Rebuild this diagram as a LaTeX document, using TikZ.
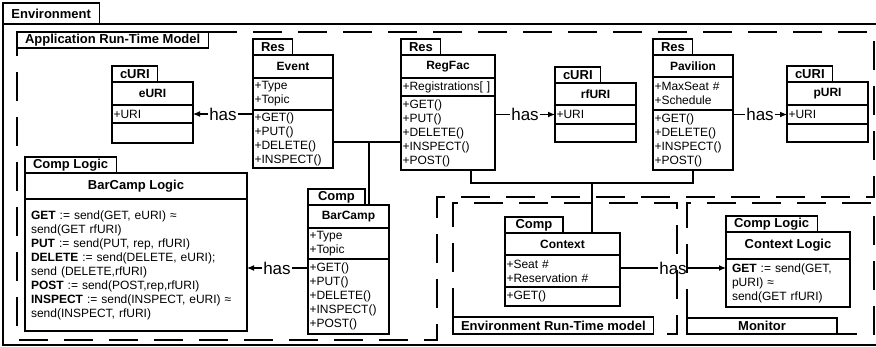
\documentclass[tikz,border=0pt]{standalone}
\usepackage{fontspec}
\setmainfont{Liberation Sans}
\usetikzlibrary{positioning,arrows.meta,calc}

\begin{document}
\begin{tikzpicture}[
    x=1pt, y=-1pt,
    line width=1.1pt,
    tab box/.style={draw, fill=white, anchor=south west, font=\bfseries\fontsize{13}{14}\selectfont, minimum height=16pt, inner xsep=8pt, inner ysep=0pt, outer sep=0pt},
    class name/.style={draw, anchor=north west, font=\bfseries\fontsize{12}{14}\selectfont, inner sep=0pt, outer sep=0pt},
    class part/.style={draw, font=\fontsize{12}{14}\selectfont, align=left, text width=#1, inner xsep=1.5pt, inner ysep=0pt, outer sep=0pt},
    logic name/.style={draw, anchor=north west, font=\bfseries\fontsize{13}{14}\selectfont, inner sep=0pt, outer sep=0pt},
    logic body/.style={draw, font=\fontsize{12}{14}\selectfont, align=left, text width=#1, inner xsep=6pt, inner ysep=0pt, outer sep=0pt},
    frame line/.style={line width=1.6pt, dash pattern=on 29pt off 16pt},
    has note/.style={font=\fontsize{17}{17}\selectfont, inner sep=0.3pt},
    has arrow/.style={-{Latex[length=7pt,width=6pt]}}
]
  \useasboundingbox (0,0) rectangle (876,347);

  % frames
  \draw (3,24) rectangle (880,345);
  \node[tab box, minimum height=21pt, inner xsep=8.5pt] (env-tab) at (3,24) {Environment};

  \node[tab box] (app-tab) at (17,48) {Application Run-Time Model};
  \draw[frame line] (app-tab.north east) -- (874,32) -- (874,197) -- (437,197) -- (437,340) -- (17,340) -- (app-tab.south west);

  \node[tab box, minimum height=17pt] (envrt-tab) at (453,334) {Environment Run-Time model};
  \draw[frame line] (envrt-tab.north west) -- (453,203) -- (677,203) -- (677,334) -- (envrt-tab.south east);

  \node[tab box, minimum width=150pt] (mon-tab) at (687,334) {Monitor};
  \draw[frame line] (mon-tab.north west) -- (687,203) -- (874,203) -- (874,334) -- (mon-tab.south east);

  % eURI
  \node[class name, minimum width=81pt, minimum height=23pt] (euri) at (112,82) {eURI};
  \node[tab box] at (euri.north west) {cURI};
  \node[class part=78pt, minimum height=18pt, below=0pt of euri] (euri-att) {+URI};
  \node[class part=78pt, minimum height=20pt, below=0pt of euri-att] (euri-ops) {};

  % Event
  \node[class name, minimum width=80pt, minimum height=23pt] (event) at (253,55) {Event};
  \node[tab box] at (event.north west) {Res};
  \node[class part=77pt, minimum height=32pt, below=0pt of event] (event-att) {+Type\\+Topic};
  \node[class part=77pt, minimum height=58pt, below=0pt of event-att] (event-ops) {+GET()\\+PUT()\\+DELETE()\\+INSPECT()};

  % RegFac
  \node[class name, minimum width=94pt, minimum height=23pt] (regfac) at (401,55) {RegFac};
  \node[tab box] at (regfac.north west) {Res};
  \node[class part=91pt, minimum height=18pt, below=0pt of regfac] (regfac-att) {+Registrations[ ]};
  \node[class part=91pt, minimum height=74pt, below=0pt of regfac-att] (regfac-ops) {+GET()\\+PUT()\\+DELETE()\\+INSPECT()\\+POST()};

  % rfURI
  \node[class name, minimum width=81pt, minimum height=22pt] (rfuri) at (555,83) {rfURI};
  \node[tab box] at (rfuri.north west) {cURI};
  \node[class part=78pt, minimum height=19pt, below=0pt of rfuri] (rfuri-att) {+URI};
  \node[class part=78pt, minimum height=18pt, below=0pt of rfuri-att] (rfuri-ops) {};

  % Pavilion
  \node[class name, minimum width=80pt, minimum height=22pt] (pavilion) at (653,55) {Pavilion};
  \node[tab box] at (pavilion.north west) {Res};
  \node[class part=77pt, minimum height=33pt, below=0pt of pavilion] (pavilion-att) {+MaxSeat \#\\+Schedule};
  \node[class part=77pt, minimum height=60pt, below=0pt of pavilion-att] (pavilion-ops) {+GET()\\+DELETE()\\+INSPECT()\\+POST()};

  % pURI
  \node[class name, minimum width=81pt, minimum height=23pt] (puri) at (787,82) {pURI};
  \node[tab box] at (puri.north west) {cURI};
  \node[class part=78pt, minimum height=19pt, below=0pt of puri] (puri-att) {+URI};
  \node[class part=78pt, minimum height=18pt, below=0pt of puri-att] (puri-ops) {};

  % BarCamp Logic
  \node[logic name, minimum width=222pt, minimum height=26pt] (bclogic) at (25,173) {BarCamp Logic};
  \node[tab box] at (bclogic.north west) {Comp Logic};
  \node[logic body=210pt, minimum height=132pt, below=0pt of bclogic] (bclogic-body) {\textbf{GET} := send(GET, eURI) ≈\\send(GET rfURI)\\\textbf{PUT} := send(PUT, rep, rfURI)\\\textbf{DELETE} := send(DELETE, eURI);\\send (DELETE,rfURI)\\\textbf{POST} := send(POST,rep,rfURI)\\\textbf{INSPECT} := send(INSPECT, eURI) ≈\\send(INSPECT, rfURI)};

  % BarCamp
  \node[class name, minimum width=81pt, minimum height=23pt] (barcamp) at (308,205) {BarCamp};
  \node[tab box, minimum width=57pt] at (barcamp.north west) {Comp};
  \node[class part=78pt, minimum height=31pt, below=0pt of barcamp] (barcamp-att) {+Type\\+Topic};
  \node[class part=78pt, minimum height=75pt, below=0pt of barcamp-att] (barcamp-ops) {+GET()\\+PUT()\\+DELETE()\\+INSPECT()\\+POST()};

  % Context
  \node[class name, minimum width=115pt, minimum height=22pt] (context) at (505,233) {Context};
  \node[tab box, minimum width=58pt] at (context.north west) {Comp};
  \node[class part=112pt, minimum height=32pt, below=0pt of context] (context-att) {+Seat \#\\+Reservation \#};
  \node[class part=112pt, minimum height=19pt, below=0pt of context-att] (context-ops) {+GET()};

  % Context Logic
  \node[logic name, minimum width=124pt, minimum height=27pt] (ctxlogic) at (726,232) {Context Logic};
  \node[tab box] at (ctxlogic.north west) {Comp Logic};
  \node[logic body=112pt, minimum height=48pt, below=0pt of ctxlogic] (ctxlogic-body) {\textbf{GET} := send(GET,\\pURI) ≈\\send(GET rfURI)};

  % tree connectors
  \coordinate (j1) at (369,142);
  \coordinate (j2) at (592,183);
  \draw (event-ops.east |- j1) -- (regfac-ops.west |- j1);
  \draw (j1) -- (j1 |- barcamp.north);
  \draw ([xshift=23pt]regfac-ops.south) |- (j2) -| (pavilion-ops.south);
  \draw (j2) -- (j2 |- context.north);

  % has links
  \node[has note] (has-e) at ($(euri-att.east)!0.5!(event-ops.west |- euri-att.east)$) {has};
  \draw (event-ops.west |- has-e) -- (has-e);
  \draw[has arrow] (has-e) -- (euri-att.east);

  \node[has note] (has-rf) at ($(rfuri-att.west)!0.5!(regfac-ops.east |- rfuri-att.west)$) {has};
  \draw (regfac-ops.east |- has-rf) -- (has-rf);
  \draw[has arrow] (has-rf) -- (rfuri-att.west);

  \node[has note] (has-p) at ($(puri-att.west)!0.5!(pavilion-ops.east |- puri-att.west)$) {has};
  \draw (pavilion-ops.east |- has-p) -- (has-p);
  \draw[has arrow] (has-p) -- (puri-att.west);

  \node[has note] (has-b) at (277,268) {has};
  \draw (barcamp-ops.west |- has-b) -- (has-b);
  \draw[has arrow] (has-b) -- (bclogic-body.east |- has-b);

  \node[has note] (has-c) at (673,268) {has};
  \draw (context-att.east |- has-c) -- (has-c);
  \draw[has arrow] (has-c) -- (ctxlogic-body.west |- has-c);
\end{tikzpicture}
\end{document}
